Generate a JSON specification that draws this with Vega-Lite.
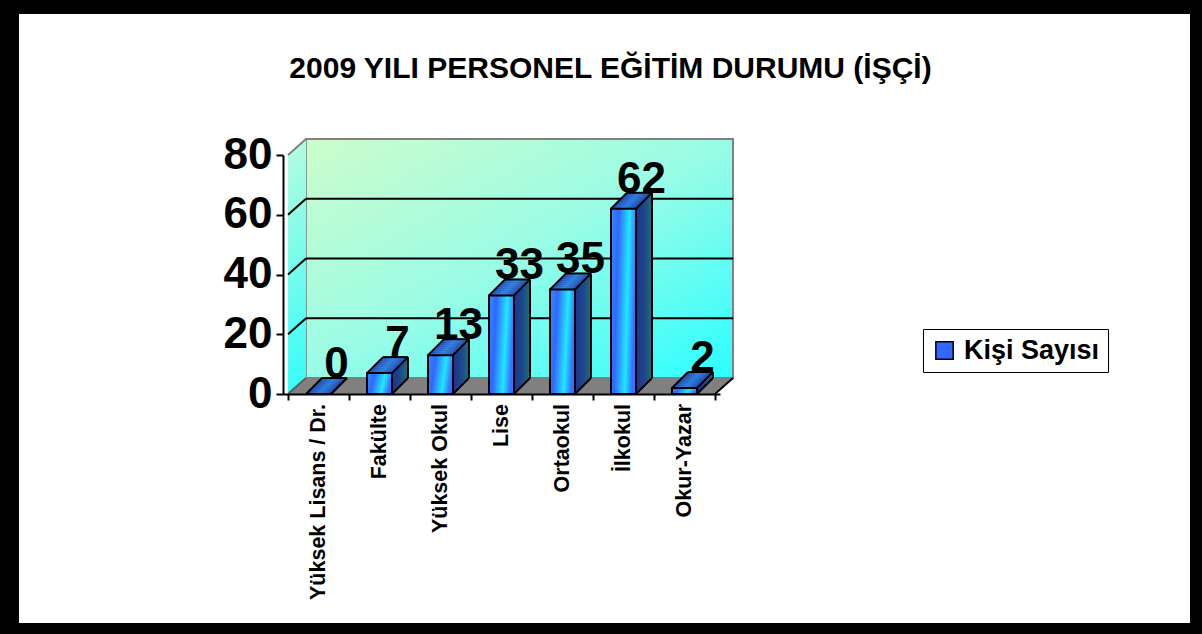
{
"$schema": "https://vega.github.io/schema/vega-lite/v6.json",
"width": 1171, "height": 609,
"autosize": {"type": "none"},
"padding": {"left": 19, "top": 14, "right": 12, "bottom": 11},
"background": "black",
"config": {"view": {"fill": "white", "stroke": null}, "font": "Liberation Sans"},
"title": {"text": "2009 YILI PERSONEL EĞİTİM DURUMU (İŞÇİ)", "font": "Liberation Sans", "fontSize": 30, "fontWeight": "bold", "color": "black", "anchor": "middle", "frame": "group", "offset": -94, "baseline": "alphabetic", "dx": 6},
"datasets": {
 "bars": [
  {"kat": "Yüksek Lisans / Dr.", "i": 0, "v": 0},
  {"kat": "Fakülte", "i": 1, "v": 7},
  {"kat": "Yüksek Okul", "i": 2, "v": 13},
  {"kat": "Lise", "i": 3, "v": 33},
  {"kat": "Ortaokul", "i": 4, "v": 35},
  {"kat": "İlkokul", "i": 5, "v": 62},
  {"kat": "Okur-Yazar", "i": 6, "v": 2}
 ]
},
"data": {"name": "bars"},
"encoding": {
 "x": {"field": "i", "type": "quantitative", "scale": {"domain": [-0.5, 6.5], "range": [264, 701], "nice": false, "zero": false},
  "axis": {"title": null, "orient": "bottom", "offset": -229, "values": [-0.5, 0.5, 1.5, 2.5, 3.5, 4.5, 5.5, 6.5], "labels": false, "grid": false, "domainColor": "black", "domainWidth": 2, "tickColor": "black", "tickWidth": 2, "tickSize": 6, "zindex": 1}},
 "y": {"field": "v", "type": "quantitative", "scale": {"domain": [0, 80], "range": [380, 141], "nice": false, "zero": false},
  "axis": {"title": null, "orient": "left", "offset": -264, "values": [0, 20, 40, 60, 80], "grid": false, "domainColor": "black", "domainWidth": 2, "tickColor": "black", "tickWidth": 2, "tickSize": 7, "labelFont": "Liberation Sans", "labelFontSize": 44, "labelFontWeight": "bold", "labelColor": "black", "labelPadding": 4, "zindex": 1}}
},
"layer": [
 {"data": {"values": [{"x0": -0.5, "x1": 6.5, "y0": 0, "y1": 80}]}, "mark": {"type": "rect", "xOffset": 18, "x2Offset": 18, "yOffset": -16, "y2Offset": -16, "stroke": "#808080", "strokeWidth": 2,
   "fill": {"gradient": "linear", "x1": 0, "y1": 0, "x2": 1, "y2": 1, "stops": [{"offset": 0, "color": "#cdfccb"}, {"offset": 0.5, "color": "#99fce6"}, {"offset": 1, "color": "#2afeff"}]}},
  "encoding": {"x": {"field": "x0", "type": "quantitative"}, "x2": {"field": "x1"}, "y": {"field": "y0", "type": "quantitative"}, "y2": {"field": "y1"}}},

 {"data": {"values": [{"x0": -0.5, "y0": 0, "y1": 80}]}, "mark": {"type": "rect", "xOffset": 0, "x2Offset": 2.4, "yOffset": -0.89, "y2Offset": -0.89, "fill": {"gradient": "linear", "x1": 0, "y1": 0, "x2": 0, "y2": 1, "stops": [{"offset": 0, "color": "#b0fce0"}, {"offset": 1, "color": "#3afcf8"}]}},
  "encoding": {"x": {"field": "x0", "type": "quantitative"}, "x2": {"field": "x0"}, "y": {"field": "y0", "type": "quantitative"}, "y2": {"field": "y1"}}},
 {"data": {"values": [{"x0": -0.5, "y0": 0, "y1": 80}]}, "mark": {"type": "rect", "xOffset": 2, "x2Offset": 4.4, "yOffset": -2.67, "y2Offset": -2.67, "fill": {"gradient": "linear", "x1": 0, "y1": 0, "x2": 0, "y2": 1, "stops": [{"offset": 0, "color": "#b0fce0"}, {"offset": 1, "color": "#3afcf8"}]}},
  "encoding": {"x": {"field": "x0", "type": "quantitative"}, "x2": {"field": "x0"}, "y": {"field": "y0", "type": "quantitative"}, "y2": {"field": "y1"}}},
 {"data": {"values": [{"x0": -0.5, "y0": 0, "y1": 80}]}, "mark": {"type": "rect", "xOffset": 4, "x2Offset": 6.4, "yOffset": -4.44, "y2Offset": -4.44, "fill": {"gradient": "linear", "x1": 0, "y1": 0, "x2": 0, "y2": 1, "stops": [{"offset": 0, "color": "#b0fce0"}, {"offset": 1, "color": "#3afcf8"}]}},
  "encoding": {"x": {"field": "x0", "type": "quantitative"}, "x2": {"field": "x0"}, "y": {"field": "y0", "type": "quantitative"}, "y2": {"field": "y1"}}},
 {"data": {"values": [{"x0": -0.5, "y0": 0, "y1": 80}]}, "mark": {"type": "rect", "xOffset": 6, "x2Offset": 8.4, "yOffset": -6.22, "y2Offset": -6.22, "fill": {"gradient": "linear", "x1": 0, "y1": 0, "x2": 0, "y2": 1, "stops": [{"offset": 0, "color": "#b0fce0"}, {"offset": 1, "color": "#3afcf8"}]}},
  "encoding": {"x": {"field": "x0", "type": "quantitative"}, "x2": {"field": "x0"}, "y": {"field": "y0", "type": "quantitative"}, "y2": {"field": "y1"}}},
 {"data": {"values": [{"x0": -0.5, "y0": 0, "y1": 80}]}, "mark": {"type": "rect", "xOffset": 8, "x2Offset": 10.4, "yOffset": -8, "y2Offset": -8, "fill": {"gradient": "linear", "x1": 0, "y1": 0, "x2": 0, "y2": 1, "stops": [{"offset": 0, "color": "#b0fce0"}, {"offset": 1, "color": "#3afcf8"}]}},
  "encoding": {"x": {"field": "x0", "type": "quantitative"}, "x2": {"field": "x0"}, "y": {"field": "y0", "type": "quantitative"}, "y2": {"field": "y1"}}},
 {"data": {"values": [{"x0": -0.5, "y0": 0, "y1": 80}]}, "mark": {"type": "rect", "xOffset": 10, "x2Offset": 12.4, "yOffset": -9.78, "y2Offset": -9.78, "fill": {"gradient": "linear", "x1": 0, "y1": 0, "x2": 0, "y2": 1, "stops": [{"offset": 0, "color": "#b0fce0"}, {"offset": 1, "color": "#3afcf8"}]}},
  "encoding": {"x": {"field": "x0", "type": "quantitative"}, "x2": {"field": "x0"}, "y": {"field": "y0", "type": "quantitative"}, "y2": {"field": "y1"}}},
 {"data": {"values": [{"x0": -0.5, "y0": 0, "y1": 80}]}, "mark": {"type": "rect", "xOffset": 12, "x2Offset": 14.4, "yOffset": -11.56, "y2Offset": -11.56, "fill": {"gradient": "linear", "x1": 0, "y1": 0, "x2": 0, "y2": 1, "stops": [{"offset": 0, "color": "#b0fce0"}, {"offset": 1, "color": "#3afcf8"}]}},
  "encoding": {"x": {"field": "x0", "type": "quantitative"}, "x2": {"field": "x0"}, "y": {"field": "y0", "type": "quantitative"}, "y2": {"field": "y1"}}},
 {"data": {"values": [{"x0": -0.5, "y0": 0, "y1": 80}]}, "mark": {"type": "rect", "xOffset": 14, "x2Offset": 16.4, "yOffset": -13.33, "y2Offset": -13.33, "fill": {"gradient": "linear", "x1": 0, "y1": 0, "x2": 0, "y2": 1, "stops": [{"offset": 0, "color": "#b0fce0"}, {"offset": 1, "color": "#3afcf8"}]}},
  "encoding": {"x": {"field": "x0", "type": "quantitative"}, "x2": {"field": "x0"}, "y": {"field": "y0", "type": "quantitative"}, "y2": {"field": "y1"}}},
 {"data": {"values": [{"x0": -0.5, "y0": 0, "y1": 80}]}, "mark": {"type": "rect", "xOffset": 16, "x2Offset": 18.2, "yOffset": -15.11, "y2Offset": -15.11, "fill": {"gradient": "linear", "x1": 0, "y1": 0, "x2": 0, "y2": 1, "stops": [{"offset": 0, "color": "#b0fce0"}, {"offset": 1, "color": "#3afcf8"}]}},
  "encoding": {"x": {"field": "x0", "type": "quantitative"}, "x2": {"field": "x0"}, "y": {"field": "y0", "type": "quantitative"}, "y2": {"field": "y1"}}},

 {"data": {"values": [{"x0": -0.5, "x1": 6.5, "y0": 0}]}, "mark": {"type": "rect", "fill": "#808080", "xOffset": 1.125, "x2Offset": 1.125, "yOffset": 0, "y2Offset": -2.4},
  "encoding": {"x": {"field": "x0", "type": "quantitative"}, "x2": {"field": "x1"}, "y": {"field": "y0", "type": "quantitative"}, "y2": {"field": "y0"}}},
 {"data": {"values": [{"x0": -0.5, "x1": 6.5, "y0": 0}]}, "mark": {"type": "rect", "fill": "#808080", "xOffset": 3.375, "x2Offset": 3.375, "yOffset": -2, "y2Offset": -4.4},
  "encoding": {"x": {"field": "x0", "type": "quantitative"}, "x2": {"field": "x1"}, "y": {"field": "y0", "type": "quantitative"}, "y2": {"field": "y0"}}},
 {"data": {"values": [{"x0": -0.5, "x1": 6.5, "y0": 0}]}, "mark": {"type": "rect", "fill": "#808080", "xOffset": 5.625, "x2Offset": 5.625, "yOffset": -4, "y2Offset": -6.4},
  "encoding": {"x": {"field": "x0", "type": "quantitative"}, "x2": {"field": "x1"}, "y": {"field": "y0", "type": "quantitative"}, "y2": {"field": "y0"}}},
 {"data": {"values": [{"x0": -0.5, "x1": 6.5, "y0": 0}]}, "mark": {"type": "rect", "fill": "#808080", "xOffset": 7.875, "x2Offset": 7.875, "yOffset": -6, "y2Offset": -8.4},
  "encoding": {"x": {"field": "x0", "type": "quantitative"}, "x2": {"field": "x1"}, "y": {"field": "y0", "type": "quantitative"}, "y2": {"field": "y0"}}},
 {"data": {"values": [{"x0": -0.5, "x1": 6.5, "y0": 0}]}, "mark": {"type": "rect", "fill": "#808080", "xOffset": 10.125, "x2Offset": 10.125, "yOffset": -8, "y2Offset": -10.4},
  "encoding": {"x": {"field": "x0", "type": "quantitative"}, "x2": {"field": "x1"}, "y": {"field": "y0", "type": "quantitative"}, "y2": {"field": "y0"}}},
 {"data": {"values": [{"x0": -0.5, "x1": 6.5, "y0": 0}]}, "mark": {"type": "rect", "fill": "#808080", "xOffset": 12.375, "x2Offset": 12.375, "yOffset": -10, "y2Offset": -12.4},
  "encoding": {"x": {"field": "x0", "type": "quantitative"}, "x2": {"field": "x1"}, "y": {"field": "y0", "type": "quantitative"}, "y2": {"field": "y0"}}},
 {"data": {"values": [{"x0": -0.5, "x1": 6.5, "y0": 0}]}, "mark": {"type": "rect", "fill": "#808080", "xOffset": 14.625, "x2Offset": 14.625, "yOffset": -12, "y2Offset": -14.4},
  "encoding": {"x": {"field": "x0", "type": "quantitative"}, "x2": {"field": "x1"}, "y": {"field": "y0", "type": "quantitative"}, "y2": {"field": "y0"}}},
 {"data": {"values": [{"x0": -0.5, "x1": 6.5, "y0": 0}]}, "mark": {"type": "rect", "fill": "#808080", "xOffset": 16.875, "x2Offset": 16.875, "yOffset": -14, "y2Offset": -16},
  "encoding": {"x": {"field": "x0", "type": "quantitative"}, "x2": {"field": "x1"}, "y": {"field": "y0", "type": "quantitative"}, "y2": {"field": "y0"}}},

 {"data": {"values": [{"x0": -0.5, "y0": 80}]}, "mark": {"type": "rule", "stroke": "#808080", "strokeWidth": 2, "x2Offset": 18, "y2Offset": -16},
  "encoding": {"x": {"field": "x0", "type": "quantitative"}, "x2": {"field": "x0"}, "y": {"field": "y0", "type": "quantitative"}, "y2": {"field": "y0"}}},
 {"data": {"values": [{"x0": -0.5, "y0": 0}]}, "mark": {"type": "rule", "stroke": "#606060", "strokeWidth": 2, "x2Offset": 18, "y2Offset": -16},
  "encoding": {"x": {"field": "x0", "type": "quantitative"}, "x2": {"field": "x0"}, "y": {"field": "y0", "type": "quantitative"}, "y2": {"field": "y0"}}},
 {"data": {"values": [{"x0": -0.5, "x1": 6.5, "g": 20}, {"x0": -0.5, "x1": 6.5, "g": 40}, {"x0": -0.5, "x1": 6.5, "g": 60}]}, "mark": {"type": "rule", "stroke": "black", "strokeWidth": 2, "xOffset": 18, "x2Offset": 18, "yOffset": -16},
  "encoding": {"x": {"field": "x0", "type": "quantitative"}, "x2": {"field": "x1"}, "y": {"field": "g", "type": "quantitative"}}},
 {"data": {"values": [{"x0": -0.5, "g": 20}, {"x0": -0.5, "g": 40}, {"x0": -0.5, "g": 60}]}, "mark": {"type": "rule", "stroke": "black", "strokeWidth": 2, "x2Offset": 18, "y2Offset": -16},
  "encoding": {"x": {"field": "x0", "type": "quantitative"}, "x2": {"field": "x0"}, "y": {"field": "g", "type": "quantitative"}, "y2": {"field": "g"}}},
 {"data": {"values": [{"x1": 6.5, "y0": 0}]}, "mark": {"type": "rule", "stroke": "black", "strokeWidth": 2, "x2Offset": 18, "y2Offset": -16},
  "encoding": {"x": {"field": "x1", "type": "quantitative"}, "x2": {"field": "x1"}, "y": {"field": "y0", "type": "quantitative"}, "y2": {"field": "y0"}}},

 {"mark": {"type": "bar", "orient": "vertical", "width": 2.4, "xOffset": 27.5, "yOffset": -15, "y2Offset": -15, "fill": "#1e6a78"}, "encoding": {"y2": {"datum": 0}}},
 {"mark": {"type": "bar", "orient": "vertical", "width": 2.4, "xOffset": 25.5, "yOffset": -13, "y2Offset": -13, "fill": "#1e607e"}, "encoding": {"y2": {"datum": 0}}},
 {"mark": {"type": "bar", "orient": "vertical", "width": 2.4, "xOffset": 23.5, "yOffset": -11, "y2Offset": -11, "fill": "#1e5684"}, "encoding": {"y2": {"datum": 0}}},
 {"mark": {"type": "bar", "orient": "vertical", "width": 2.4, "xOffset": 21.5, "yOffset": -9, "y2Offset": -9, "fill": "#1e4c88"}, "encoding": {"y2": {"datum": 0}}},
 {"mark": {"type": "bar", "orient": "vertical", "width": 2.4, "xOffset": 19.5, "yOffset": -7, "y2Offset": -7, "fill": "#1e458a"}, "encoding": {"y2": {"datum": 0}}},
 {"mark": {"type": "bar", "orient": "vertical", "width": 2.4, "xOffset": 17.5, "yOffset": -5, "y2Offset": -5, "fill": "#1e3f8c"}, "encoding": {"y2": {"datum": 0}}},
 {"mark": {"type": "bar", "orient": "vertical", "width": 2.4, "xOffset": 15.5, "yOffset": -3, "y2Offset": -3, "fill": "#1e3a8e"}, "encoding": {"y2": {"datum": 0}}},
 {"mark": {"type": "bar", "orient": "vertical", "width": 2.4, "xOffset": 13.5, "yOffset": -1, "y2Offset": -1, "fill": "#1f3590"}, "encoding": {"y2": {"datum": 0}}},

 {"mark": {"type": "bar", "orient": "vertical", "width": 25, "xOffset": 15, "yOffset": -16, "y2Offset": -13.6, "fill": {"gradient": "linear", "x1": 0, "y1": 0, "x2": 1, "y2": 0, "stops": [{"offset": 0, "color": "#2448b8"}, {"offset": 0.5, "color": "#2e7fd8"}, {"offset": 1, "color": "#2248b0"}]}}, "encoding": {"y2": {"field": "v"}}},
 {"mark": {"type": "bar", "orient": "vertical", "width": 25, "xOffset": 13, "yOffset": -14, "y2Offset": -11.6, "fill": {"gradient": "linear", "x1": 0, "y1": 0, "x2": 1, "y2": 0, "stops": [{"offset": 0, "color": "#2448b8"}, {"offset": 0.5, "color": "#2e7fd8"}, {"offset": 1, "color": "#2248b0"}]}}, "encoding": {"y2": {"field": "v"}}},
 {"mark": {"type": "bar", "orient": "vertical", "width": 25, "xOffset": 11, "yOffset": -12, "y2Offset": -9.6, "fill": {"gradient": "linear", "x1": 0, "y1": 0, "x2": 1, "y2": 0, "stops": [{"offset": 0, "color": "#2448b8"}, {"offset": 0.5, "color": "#2e7fd8"}, {"offset": 1, "color": "#2248b0"}]}}, "encoding": {"y2": {"field": "v"}}},
 {"mark": {"type": "bar", "orient": "vertical", "width": 25, "xOffset": 9, "yOffset": -10, "y2Offset": -7.6, "fill": {"gradient": "linear", "x1": 0, "y1": 0, "x2": 1, "y2": 0, "stops": [{"offset": 0, "color": "#2448b8"}, {"offset": 0.5, "color": "#2e7fd8"}, {"offset": 1, "color": "#2248b0"}]}}, "encoding": {"y2": {"field": "v"}}},
 {"mark": {"type": "bar", "orient": "vertical", "width": 25, "xOffset": 7, "yOffset": -8, "y2Offset": -5.6, "fill": {"gradient": "linear", "x1": 0, "y1": 0, "x2": 1, "y2": 0, "stops": [{"offset": 0, "color": "#2448b8"}, {"offset": 0.5, "color": "#2e7fd8"}, {"offset": 1, "color": "#2248b0"}]}}, "encoding": {"y2": {"field": "v"}}},
 {"mark": {"type": "bar", "orient": "vertical", "width": 25, "xOffset": 5, "yOffset": -6, "y2Offset": -3.6, "fill": {"gradient": "linear", "x1": 0, "y1": 0, "x2": 1, "y2": 0, "stops": [{"offset": 0, "color": "#2448b8"}, {"offset": 0.5, "color": "#2e7fd8"}, {"offset": 1, "color": "#2248b0"}]}}, "encoding": {"y2": {"field": "v"}}},
 {"mark": {"type": "bar", "orient": "vertical", "width": 25, "xOffset": 3, "yOffset": -4, "y2Offset": -1.6, "fill": {"gradient": "linear", "x1": 0, "y1": 0, "x2": 1, "y2": 0, "stops": [{"offset": 0, "color": "#2448b8"}, {"offset": 0.5, "color": "#2e7fd8"}, {"offset": 1, "color": "#2248b0"}]}}, "encoding": {"y2": {"field": "v"}}},
 {"mark": {"type": "bar", "orient": "vertical", "width": 25, "xOffset": 1, "yOffset": -2, "y2Offset": 0.4, "fill": {"gradient": "linear", "x1": 0, "y1": 0, "x2": 1, "y2": 0, "stops": [{"offset": 0, "color": "#2448b8"}, {"offset": 0.5, "color": "#2e7fd8"}, {"offset": 1, "color": "#2248b0"}]}}, "encoding": {"y2": {"field": "v"}}},

 {"mark": {"type": "rule", "stroke": "black", "strokeWidth": 2, "xOffset": -12.5, "x2Offset": 3.5, "y2Offset": -16}, "encoding": {"x2": {"field": "i"}, "y2": {"field": "v"}}},
 {"mark": {"type": "rule", "stroke": "black", "strokeWidth": 2, "xOffset": 12.5, "x2Offset": 28.5, "y2Offset": -16}, "encoding": {"x2": {"field": "i"}, "y2": {"field": "v"}}},
 {"mark": {"type": "rule", "stroke": "black", "strokeWidth": 2, "xOffset": 3.5, "x2Offset": 28.5, "yOffset": -16}, "encoding": {"x2": {"field": "i"}}},
 {"mark": {"type": "rule", "stroke": "black", "strokeWidth": 2, "xOffset": 28.5, "yOffset": -16, "y2Offset": -16}, "encoding": {"y2": {"datum": 0}}},
 {"mark": {"type": "rule", "stroke": "black", "strokeWidth": 2, "xOffset": 12.5, "x2Offset": 28.5, "y2Offset": -16}, "encoding": {"x2": {"field": "i"}, "y": {"datum": 0, "type": "quantitative"}, "y2": {"datum": 0}}},

 {"mark": {"type": "bar", "orient": "vertical", "width": 25, "stroke": "black", "strokeWidth": 2,
   "fill": {"gradient": "linear", "x1": 0, "y1": 0, "x2": 1, "y2": 0.2, "stops": [{"offset": 0, "color": "#2f8fff"}, {"offset": 0.3, "color": "#3366ff"}, {"offset": 0.72, "color": "#20e8ff"}, {"offset": 1, "color": "#3570ff"}]}},
  "encoding": {"y2": {"datum": 0}}},

 {"mark": {"type": "text", "dx": 18, "dy": -16, "align": "center", "baseline": "alphabetic", "font": "Liberation Sans", "fontSize": 44, "fontWeight": "bold", "fill": "black"},
  "encoding": {"text": {"field": "v", "type": "quantitative"}}},
 {"mark": {"type": "text", "angle": 270, "align": "right", "baseline": "middle", "dx": -10, "font": "Liberation Sans", "fontSize": 21.5, "fontWeight": "bold", "fill": "black"},
  "encoding": {"y": {"datum": 0, "type": "quantitative"}, "text": {"field": "kat", "type": "nominal"}}},

 {"mark": {"type": "bar", "orient": "vertical", "width": 1, "opacity": 0},
  "encoding": {"y2": {"datum": 0},
   "color": {"datum": "Kişi Sayısı", "type": "nominal", "scale": {"range": ["#3366ff"]},
    "legend": {"orient": "none", "legendX": 904, "legendY": 315, "title": null, "strokeColor": "black", "fillColor": "white", "padding": 8,
     "labelFont": "Liberation Sans", "labelFontSize": 27, "labelFontWeight": "bold", "labelColor": "black", "labelOffset": 6, "labelLimit": 400,
     "symbolType": "square", "symbolSize": 300, "symbolOpacity": 1, "symbolStrokeColor": "black", "symbolStrokeWidth": 1.5,
     "encode": {"symbols": {"update": {"stroke": {"value": "black"}, "strokeWidth": {"value": 1.5}, "fill": {"value": {"gradient": "linear", "x1": 0, "y1": 0, "x2": 1, "y2": 1, "stops": [{"offset": 0, "color": "#20d0ff"}, {"offset": 0.5, "color": "#3366ff"}, {"offset": 1, "color": "#20e8ff"}]}}}}}}}}}
]
}
